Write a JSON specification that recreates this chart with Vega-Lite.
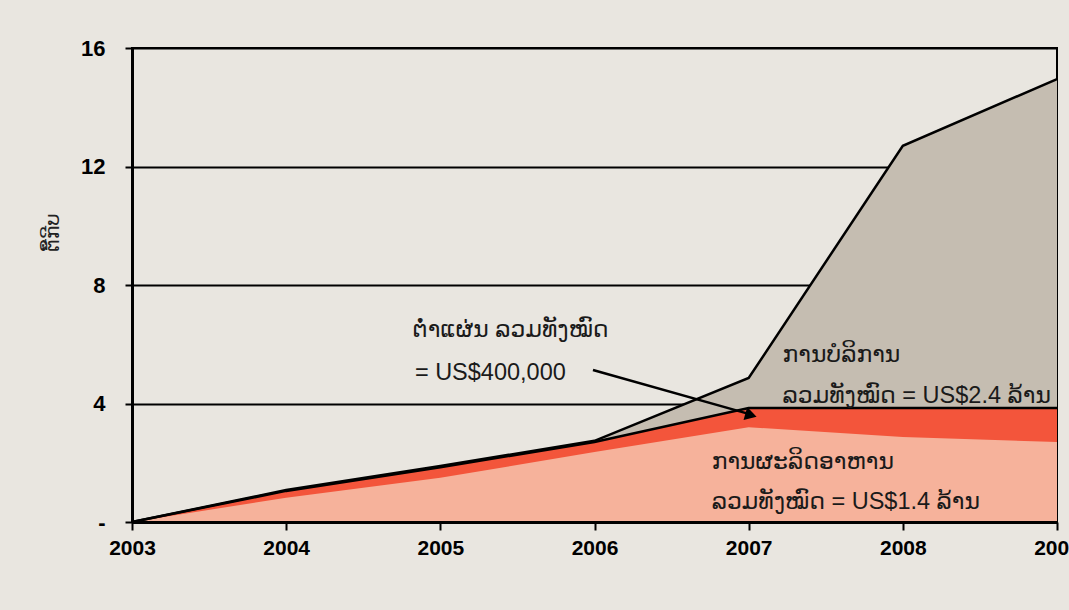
{
  "$schema": "https://vega.github.io/schema/vega-lite/v6.json",
  "autosize": {"type": "none"},
  "padding": {"left": 132, "top": 48, "right": 12, "bottom": 88},
  "width": 925,
  "height": 474,
  "background": "#e9e6e0",
  "config": {
    "view": {"stroke": "black", "strokeWidth": 2, "fill": "#e9e6e0"},
    "font": "Liberation Sans"
  },
  "datasets": {
    "series": [
      {"year": 2003, "total": 0, "weaving_top": 0, "food": 0},
      {"year": 2004, "total": 1.08, "weaving_top": 1.05, "food": 0.82},
      {"year": 2005, "total": 1.89, "weaving_top": 1.85, "food": 1.49},
      {"year": 2006, "total": 2.74, "weaving_top": 2.7, "food": 2.36},
      {"year": 2007, "total": 4.86, "weaving_top": 3.85, "food": 3.2},
      {"year": 2008, "total": 12.7, "weaving_top": 3.85, "food": 2.87},
      {"year": 2009, "total": 14.95, "weaving_top": 3.85, "food": 2.7}
    ],
    "labels": [
      {"year": 2004.82, "value": 6.48, "text": "ຕໍ່າແຜ່ນ ລວມທັງໝົດ"},
      {"year": 2004.835, "value": 5.03, "text": "= US$400,000"},
      {"year": 2007.22, "value": 5.64, "text": "ການບໍລິການ"},
      {"year": 2007.22, "value": 4.25, "text": "ລວມທັງໝົດ = US$2.4 ລ້ານ"},
      {"year": 2006.76, "value": 2.03, "text": "ການຜະລິດອາຫານ"},
      {"year": 2006.76, "value": 0.66, "text": "ລວມທັງໝົດ = US$1.4 ລ້ານ"}
    ],
    "arrow": [
      {"year": 2005.99, "value": 5.13, "year2": 2007.0, "value2": 3.65}
    ],
    "arrowhead": [
      {"year": 2007.015, "value": 3.61}
    ]
  },
  "encoding": {
    "x": {
      "field": "year", "type": "quantitative",
      "scale": {"domain": [2003, 2009], "nice": false, "zero": false},
      "axis": {
        "values": [2003, 2004, 2005, 2006, 2007, 2008, 2009],
        "format": "d", "title": null, "grid": false, "zindex": 1,
        "labelFont": "Liberation Sans", "labelFontSize": 21, "labelFontWeight": "bold",
        "labelColor": "black", "labelPadding": 7, "labelFlush": false, "labelOverlap": false,
        "tickColor": "black", "tickSize": 8, "tickWidth": 2,
        "domainColor": "black", "domainWidth": 3
      }
    }
  },
  "layer": [
    {
      "data": {"name": "series"},
      "mark": {"type": "area", "color": "#c5bdb1"},
      "encoding": {
        "y": {
          "field": "total", "type": "quantitative",
          "scale": {"domain": [0, 16], "nice": false},
          "axis": {
            "values": [0, 4, 8, 12, 16],
            "labelExpr": "datum.value == 0 ? '-' : datum.label",
            "title": "ຕື້ກີບ", "titleFont": "DejaVu Sans", "titleFontSize": 20, "titleFontWeight": "normal",
            "titleColor": "#222", "titleAngle": 270, "titleX": -80, "titleY": 184,
            "titleAlign": "center", "titleBaseline": "middle",
            "labelFont": "Liberation Sans", "labelFontSize": 22, "labelFontWeight": "bold",
            "labelColor": "black", "labelPadding": 20,
            "tickColor": "black", "tickSize": 7, "tickWidth": 2,
            "domainColor": "black", "domainWidth": 3,
            "grid": true, "gridColor": "black", "gridWidth": 2
          }
        }
      }
    },
    {
      "data": {"name": "series"},
      "mark": {"type": "area", "color": "#f3553b"},
      "encoding": {"y": {"field": "weaving_top", "type": "quantitative"}}
    },
    {
      "data": {"name": "series"},
      "mark": {"type": "area", "color": "#f6b29b"},
      "encoding": {"y": {"field": "food", "type": "quantitative"}}
    },
    {
      "data": {"name": "series"},
      "mark": {"type": "line", "color": "black", "strokeWidth": 2.5},
      "encoding": {"y": {"field": "total", "type": "quantitative"}}
    },
    {
      "data": {"name": "series"},
      "mark": {"type": "line", "color": "black", "strokeWidth": 2.5},
      "encoding": {"y": {"field": "weaving_top", "type": "quantitative"}}
    },
    {
      "data": {"name": "arrow"},
      "mark": {"type": "rule", "color": "black", "strokeWidth": 2.5},
      "encoding": {
        "y": {"field": "value", "type": "quantitative"},
        "x2": {"field": "year2"},
        "y2": {"field": "value2"}
      }
    },
    {
      "data": {"name": "arrowhead"},
      "mark": {"type": "point", "shape": "triangle-right", "filled": true, "color": "black", "opacity": 1, "size": 180, "angle": 16},
      "encoding": {"y": {"field": "value", "type": "quantitative"}}
    },
    {
      "data": {"name": "labels"},
      "mark": {"type": "text", "align": "left", "baseline": "middle", "fontSize": 23.5, "color": "#1a1a1a", "font": "Liberation Sans, DejaVu Sans"},
      "encoding": {
        "y": {"field": "value", "type": "quantitative"},
        "text": {"field": "text"}
      }
    }
  ]
}
